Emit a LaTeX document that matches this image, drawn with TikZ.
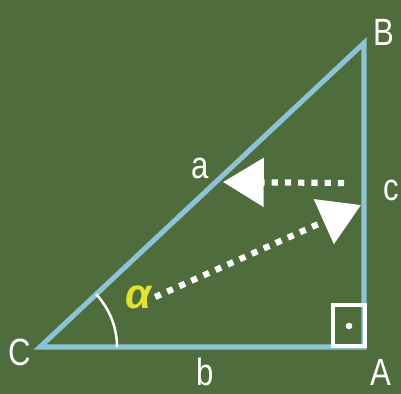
\documentclass[tikz,border=0pt]{standalone}
\usepackage{fontspec}
\usepackage{tikz}
\usetikzlibrary{arrows.meta}
\newfontfamily\boardfont[FakeStretch=0.82]{Liberation Sans}
\newfontfamily\greekfont{Liberation Sans}
\definecolor{board}{RGB}{78,108,60}
\definecolor{chalkblue}{RGB}{140,196,214}
\definecolor{chalkyellow}{RGB}{226,226,48}
\tikzset{
  side/.style={chalkblue, line width=3.6pt, line join=miter},
  lbl/.style={white, font=\boardfont\fontsize{27}{27}\selectfont, inner sep=0pt},
  dots/.style={white, line width=4.4pt, dash pattern=on 4.4pt off 5pt},
  bigtip/.style={-{Triangle[length=29pt,width=34pt,fill=white]}}}

\begin{document}
\begin{tikzpicture}[x=0.025cm, y=-0.025cm]
	\fill [board] (0,0) rectangle (401,394);
	\useasboundingbox (0,0) rectangle (401,394);
	\coordinate (C) at (40,347);
	\coordinate (A) at (364,347);
	\coordinate (B) at (364,43);
		\coordinate (arcstart) at (117,347);
		\coordinate (hit) at (361,205);
		\coordinate (cstart) at (344,183);
		\coordinate (ahit) at (223,182);
	\draw [side] (C) -- (A) -- (B) -- cycle;
	\draw [white, line width=3pt] (333,305) rectangle (365,346);
	\draw [fill, white] (349,326) circle (3);
	\draw [white, line width=1.8pt] (arcstart) arc (0:-43.2:77);
		\node [lbl] (nB) at (384,32) {B};
		\node [lbl] (nC) at (20,352) {C};
		\node [lbl] (nA) at (381,372) {A};
		\node [lbl] (na) at (200,168) {a};
		\node [lbl] (nb) at (205,372) {b};
		\node [lbl] (nc) at (391,190) {c};
	\node [chalkyellow, font=\greekfont\bfseries\itshape\fontsize{30}{30}\selectfont, inner sep=2pt] (alpha) at (139,297) {α};
	\draw [dots, bigtip] (alpha.east) -- (hit);
	\draw [dots, bigtip] (cstart) -- (ahit);
	\end{tikzpicture}
\end{document}
